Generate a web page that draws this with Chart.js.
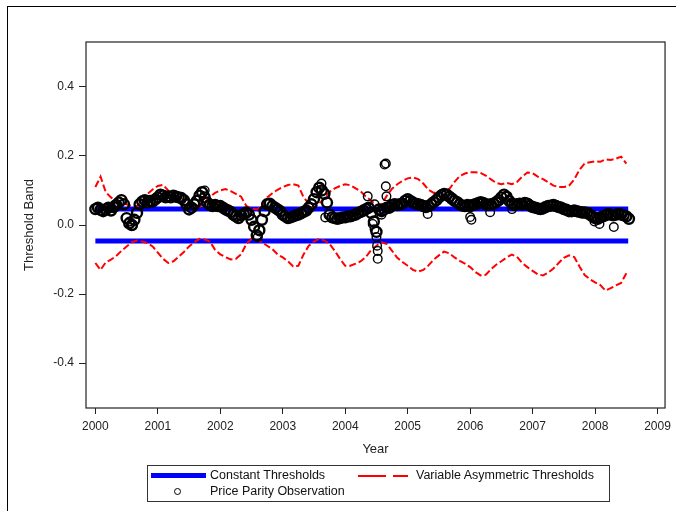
<!DOCTYPE html>
<html>
<head>
<meta charset="utf-8">
<script src="https://cdn.jsdelivr.net/npm/chart.js@4/dist/chart.umd.min.js"></script>
<style>
  body { margin: 0; background: #fff; }
  #wrap { position: relative; width: 676px; height: 511px; overflow: hidden; font-family: "Liberation Sans", Arial, sans-serif; }
  #frame { position: absolute; left: 7px; top: 6px; width: 700px; height: 520px; border-left: 1.5px solid #000; border-top: 1.5px solid #000; }
  #chart { position: absolute; left: 0; top: 0; }
  #legend { position: absolute; left: 147px; top: 465px; width: 463px; height: 37px; border: 1.5px solid #333; box-sizing: border-box; font-size: 12.5px; color: #111; }
  #legend .t { position: absolute; line-height: 14px; white-space: nowrap; }
  #legend .sym { position: absolute; }
</style>
</head>
<body>
<div id="wrap">
  <div id="frame"></div>
  <canvas id="chart" width="676" height="511"></canvas>
  <div id="legend">
    <div class="sym" style="left:3px;top:7px;width:55px;height:5px;background:#0000ff"></div>
    <div class="t" style="left:62px;top:2px">Constant Thresholds</div>
    <div class="sym" style="left:210px;top:8.5px;width:28px;height:2.5px;background:#ff0000"></div>
    <div class="sym" style="left:245px;top:8.5px;width:15px;height:2.5px;background:#ff0000"></div>
    <div class="t" style="left:268px;top:2px">Variable Asymmetric Thresholds</div>
    <div class="sym" style="left:26px;top:22px;width:5px;height:5px;border:1.3px solid #000;border-radius:50%"></div>
    <div class="t" style="left:62px;top:18px">Price Parity Observation</div>
  </div>
</div>
<script>
// tick labels
const xTicks = [2000, 2001, 2002, 2003, 2004, 2005, 2006, 2007, 2008, 2009];
const yTicks = [-0.4, -0.2, 0.0, 0.2, 0.4];

// constant thresholds
const constYears = [2000, 2008.53];
const constUpper = 0.046;
const constLower = -0.046;

// variable asymmetric thresholds, monthly from Jan 2000
const bandStart = 2000;
const upperBand = [
  0.11, 0.14, 0.095, 0.08, 0.07, 0.064, 0.06, 0.055, 0.055, 0.07, 0.09, 0.103,
  0.113, 0.116, 0.1, 0.085, 0.07, 0.06, 0.055, 0.05, 0.052, 0.065, 0.082, 0.093,
  0.1, 0.104, 0.098, 0.09, 0.082, 0.055, 0.048, 0.045, 0.055, 0.08, 0.092, 0.102,
  0.11, 0.116, 0.118, 0.114, 0.08, 0.062, 0.05, 0.062, 0.078, 0.096, 0.106, 0.113,
  0.118, 0.115, 0.106, 0.097, 0.082, 0.07, 0.058, 0.06, 0.085, 0.105, 0.118, 0.128,
  0.135, 0.138, 0.133, 0.12, 0.102, 0.093, 0.097, 0.104, 0.104, 0.125, 0.142, 0.149,
  0.153, 0.153, 0.151, 0.143, 0.132, 0.122, 0.118, 0.122, 0.118, 0.125, 0.14, 0.152,
  0.15, 0.14, 0.133, 0.124, 0.114, 0.11, 0.11, 0.114, 0.132, 0.16, 0.178, 0.182,
  0.184, 0.183, 0.19, 0.188, 0.192, 0.198, 0.178
];
const lowerBand = [
  -0.11, -0.13, -0.108, -0.1, -0.09, -0.075, -0.062, -0.05, -0.045, -0.048, -0.052, -0.062,
  -0.08, -0.098, -0.11, -0.105, -0.092, -0.078, -0.062, -0.05, -0.04, -0.042, -0.048, -0.072,
  -0.085, -0.093, -0.1, -0.098, -0.085, -0.055, -0.04, -0.044, -0.05, -0.06, -0.07, -0.085,
  -0.094, -0.105, -0.12, -0.118, -0.085, -0.06, -0.048, -0.04, -0.045, -0.055, -0.075, -0.098,
  -0.118, -0.118, -0.112, -0.105, -0.092, -0.072, -0.06, -0.05, -0.055, -0.075, -0.095, -0.107,
  -0.118, -0.13, -0.135, -0.13, -0.117, -0.1, -0.088, -0.077, -0.082, -0.094, -0.104, -0.112,
  -0.122, -0.136, -0.146, -0.144, -0.128, -0.115, -0.105, -0.094, -0.086, -0.092, -0.11, -0.122,
  -0.133, -0.143, -0.146, -0.138, -0.126, -0.11, -0.095, -0.088, -0.093, -0.12, -0.145, -0.157,
  -0.166, -0.174, -0.19, -0.183, -0.175, -0.168, -0.14
];

// price parity observations, twice a month from Jan 2000
const obsStart = 2000;
const obsValues = [
  // 2000
  0.046, 0.05, 0.044, 0.04, 0.045, 0.05, 0.042, 0.052, 0.058, 0.065, 0.072, 0.06,
  0.02, 0.005, 0.0, 0.015, 0.035, 0.06, 0.068, 0.072, 0.065, 0.07, 0.068, 0.074,
  // 2001
  0.08, 0.088, 0.085, 0.08, 0.083, 0.08, 0.085, 0.082, 0.08, 0.078, 0.072, 0.06,
  0.045, 0.05, 0.06, 0.07, 0.085, 0.095, 0.08, 0.065, 0.058, 0.055, 0.058, 0.055,
  // 2002
  0.055, 0.05, 0.045, 0.042, 0.038, 0.03, 0.025, 0.02, 0.028, 0.032, 0.036, 0.03,
  0.015, -0.005, -0.03, -0.015, 0.015, 0.04, 0.06, 0.062, 0.055, 0.05, 0.045, 0.04,
  // 2003
  0.03, 0.025, 0.02, 0.022, 0.025, 0.028, 0.03, 0.034, 0.038, 0.042, 0.05, 0.06,
  0.075, 0.095, 0.108, 0.1, 0.09, 0.065, 0.03, 0.022, 0.02, 0.018, 0.02, 0.022,
  // 2004
  0.022, 0.025, 0.025, 0.028, 0.03, 0.035, 0.038, 0.042, 0.046, 0.05, 0.035, 0.01,
  -0.02, 0.045, 0.04, 0.045, 0.05, 0.05, 0.058, 0.06, 0.058, 0.06, 0.062, 0.07,
  // 2005
  0.075, 0.07, 0.065, 0.062, 0.06, 0.058, 0.055, 0.052, 0.055, 0.06, 0.066, 0.072,
  0.08, 0.086, 0.09, 0.088, 0.082, 0.076, 0.07, 0.066, 0.06, 0.056, 0.055, 0.058,
  // 2006
  0.055, 0.058, 0.06, 0.063, 0.066, 0.064, 0.06, 0.058, 0.06, 0.062, 0.066, 0.072,
  0.08, 0.088, 0.082, 0.07, 0.062, 0.058, 0.06, 0.062, 0.06, 0.064, 0.062, 0.056,
  // 2007
  0.052, 0.05, 0.048, 0.046, 0.048, 0.052, 0.055, 0.056, 0.058, 0.055, 0.052, 0.05,
  0.046, 0.044, 0.04, 0.04, 0.042, 0.04, 0.038, 0.036, 0.036, 0.035, 0.03, 0.025,
  // 2008
  0.02, 0.018, 0.022, 0.025, 0.028, 0.032, 0.03, 0.028, 0.03, 0.032, 0.03, 0.028,
  0.025, 0.018
];

// scattered observations away from the main run
const outlierYears = [2000.55, 2000.6, 2001.75, 2002.6, 2003.62, 2003.68, 2004.36, 2004.44, 2004.47, 2004.47,
  2004.5, 2004.51, 2004.52, 2004.52, 2004.58, 2004.63, 2004.65, 2004.65, 2004.66, 2005.32,
  2006.0, 2006.02, 2006.32, 2006.67, 2007.99, 2008.07, 2008.3];
const outlierValues = [0.01, -0.002, 0.1, -0.035, 0.12, 0.022, 0.083, 0.003, -0.012, 0.06,
  -0.035, -0.06, -0.075, -0.098, 0.03, 0.175, 0.178, 0.112, 0.083, 0.032,
  0.023, 0.015, 0.037, 0.046, 0.01, 0.003, -0.006];

const FONT = '"Liberation Sans", Arial, sans-serif';

const upperPts = upperBand.map((v, i) => ({ x: bandStart + i / 12, y: v }));
const lowerPts = lowerBand.map((v, i) => ({ x: bandStart + i / 12, y: v }));
const mainPts = obsValues.map((v, i) => ({ x: obsStart + i / 24, y: v }));
const strayPts = outlierYears.map((yr, i) => ({ x: yr, y: outlierValues[i] }));

const boxPlugin = {
  id: 'box',
  afterDraw(chart) {
    const { ctx, chartArea: a } = chart;
    ctx.save();
    ctx.strokeStyle = '#222';
    ctx.lineWidth = 1.2;
    ctx.strokeRect(a.left, a.top, a.right - a.left, a.bottom - a.top);
    ctx.restore();
  }
};

const lineDs = (label, pts, color, width, dash, order) => ({
  label, data: pts, showLine: true, borderColor: color, borderWidth: width,
  borderDash: dash, pointRadius: 0, fill: false, tension: 0, order
});

const circleDs = (label, pts, radius, width) => ({
  label, data: pts, pointStyle: 'circle', pointRadius: radius, pointBorderWidth: width,
  borderColor: '#000', backgroundColor: 'rgba(0,0,0,0)', order: 0
});

new Chart(document.getElementById('chart'), {
  type: 'scatter',
  data: {
    datasets: [
      circleDs('Price Parity Observation', mainPts, 5, 2.4),
      circleDs('Price Parity Observation (scattered)', strayPts, 4.3, 1.4),
      lineDs('Variable Asymmetric Thresholds', upperPts, '#ff0000', 2, [7, 3], 1),
      lineDs('Variable Asymmetric Thresholds (lower)', lowerPts, '#ff0000', 2, [7, 3], 1),
      lineDs('Constant Thresholds', constYears.map((x) => ({ x, y: constUpper })), '#0000ff', 5, [], 2),
      lineDs('Constant Thresholds (lower)', constYears.map((x) => ({ x, y: constLower })), '#0000ff', 5, [], 2),
    ],
  },
  options: {
    responsive: false,
    animation: false,
    devicePixelRatio: 1,
    layout: { padding: { left: 20, top: 42, right: 8, bottom: 52 } },
    plugins: { legend: { display: false }, tooltip: { enabled: false } },
    scales: {
      x: {
        type: 'linear', min: 1999.85, max: 2009.12,
        afterBuildTicks: (s) => { s.ticks = xTicks.map((v) => ({ value: v })); },
        afterFit: (s) => { s.height = 51; },
        grid: { display: true, drawOnChartArea: false, drawTicks: true, tickLength: 6, color: '#222' },
        border: { display: false },
        ticks: { callback: (v) => String(v), font: { family: FONT, size: 12 }, color: '#222', padding: 5, maxRotation: 0, autoSkip: false },
        title: { display: true, text: 'Year', font: { family: FONT, size: 13 }, color: '#222', padding: { top: 2, bottom: 2 } },
      },
      y: {
        min: -0.53, max: 0.53,
        afterBuildTicks: (s) => { s.ticks = yTicks.map((v) => ({ value: v })); },
        afterFit: (s) => { s.width = 66; },
        grid: { display: true, drawOnChartArea: false, drawTicks: true, tickLength: 7, color: '#222' },
        border: { display: false },
        ticks: { callback: (v) => v.toFixed(1), font: { family: FONT, size: 12 }, color: '#222', padding: 5, autoSkip: false },
        title: { display: true, text: 'Threshold Band', font: { family: FONT, size: 13 }, color: '#222', padding: { top: 2, bottom: 2 } },
      },
    },
  },
  plugins: [boxPlugin],
});
</script>
</body>
</html>
